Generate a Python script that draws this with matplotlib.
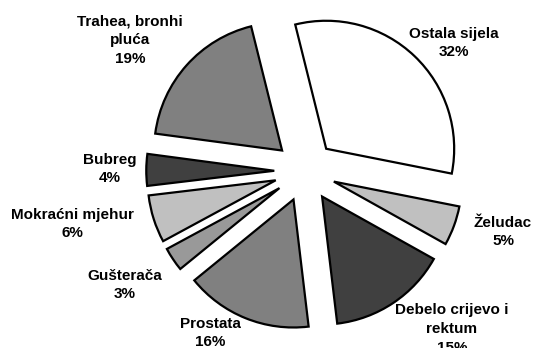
import matplotlib
matplotlib.use("Agg")
import matplotlib.pyplot as plt

# Udio sijela raka (%)
names = ["Ostala sijela", "Želudac", "Debelo crijevo i\nrektum", "Prostata",
         "Gušterača", "Mokraćni mjehur", "Bubreg", "Trahea, bronhi\npluća"]
shares = [32, 5, 15, 16, 3, 6, 4, 19]
colors = ["#ffffff", "#c0c0c0", "#404040", "#808080",
          "#999999", "#c0c0c0", "#404040", "#808080"]

# label centres in figure pixels (x from left, y from top)
label_pos = [(454, 43), (503, 232), (452, 329), (210, 333),
             (125, 285), (72, 224), (110, 169), (130, 40)]

W, H = 534, 348
R_PX = 128          # pie radius in pixels
CX, CY = 305, 171   # pie centre in pixels

fig = plt.figure(figsize=(W / 100, H / 100), dpi=100)
ax = fig.add_axes([0, 0, 1, 1])

ax.pie(shares, colors=colors, startangle=104, counterclock=False,
       explode=[0.24] * len(shares), radius=1,
       wedgeprops=dict(edgecolor="black", linewidth=1.6))

ax.set_xlim(-CX / R_PX, (W - CX) / R_PX)
ax.set_ylim(-(H - CY) / R_PX, CY / R_PX)
ax.set_aspect("equal")
ax.axis("off")

for name, val, (px, py) in zip(names, shares, label_pos):
    fig.text(px / W, 1 - py / H, f"{name}\n{val}%", ha="center", va="center",
             fontsize=11, fontweight="bold", family="Liberation Sans",
             linespacing=1.45)

fig.savefig("out.png", dpi=100)
